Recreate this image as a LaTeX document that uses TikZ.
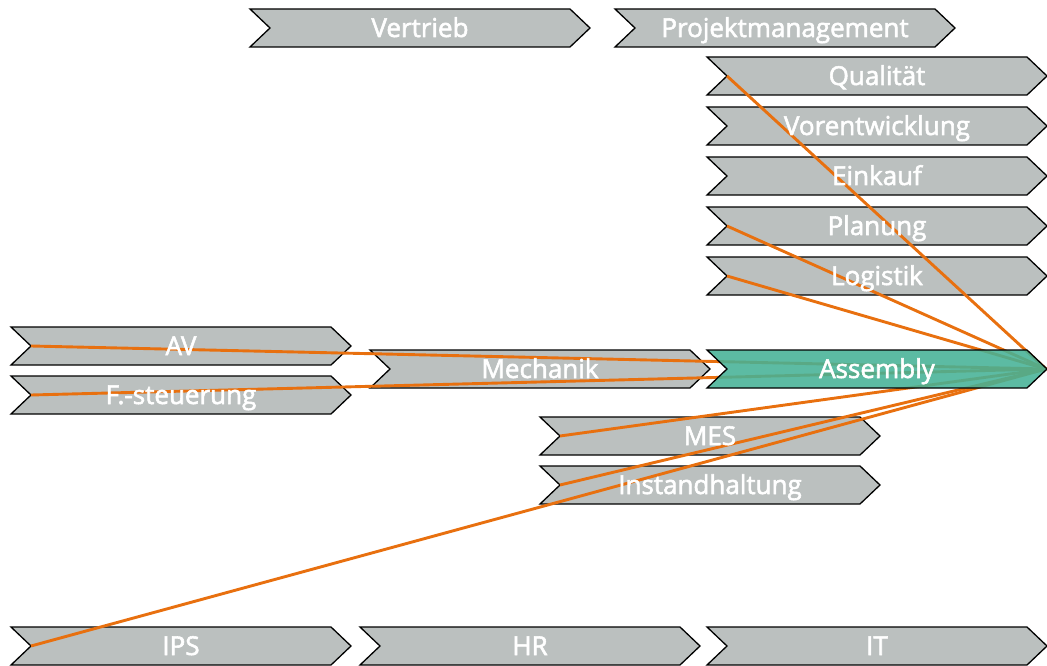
\documentclass[tikz,border=0pt]{standalone}
\usepackage{fontspec}
\setmainfont{Open Sans}[FakeBold=2.2]
\definecolor{chevgray}{HTML}{BBC0BF}
\definecolor{chevgreen}{HTML}{46B296}
\definecolor{linkorange}{HTML}{E8700F}
\pgfdeclarelayer{conn}
\pgfdeclarelayer{hl}
\pgfdeclarelayer{txt}
\pgfsetlayers{main,conn,hl,txt}
\tikzset{
  chevshape/.style={fill=chevgray, draw=black, line width=1.3pt, line join=miter},
  chevhl/.style={fill=chevgreen, fill opacity=0.88, draw=black, draw opacity=1, line width=1.3pt, line join=miter},
  chevlabel/.style={text=white, font=\fontsize{26}{28}\selectfont, inner sep=0pt, anchor=base},
  link/.style={draw=linkorange, line width=2.9pt},
}
% #1 name, #2 left x, #3 top y, #4 label, #5 shape style
\newcommand{\chevbox}[5]{%
  \path[#5] (#2,-#3) -- ++(320,0) -- ++(20,-19) -- ++(-20,-19) -- ++(-320,0) -- ++(20,19) -- cycle;
  \coordinate (#1-in) at (#2+20,-#3-19);
  \coordinate (#1-tip) at (#2+339,-#3-19);
  \begin{pgfonlayer}{txt}
    \node[chevlabel] (#1) at (#2+170,-#3-28) {#4};
  \end{pgfonlayer}%
}
\begin{document}
\begin{tikzpicture}[x=1pt, y=1pt]
  \useasboundingbox (0,0) rectangle (1047,-666);
  % top row
  \chevbox{vertrieb}{250}{9}{Vertrieb}{chevshape}
  \chevbox{pm}{615}{9}{Projektmanagement}{chevshape}
  % right column
  \chevbox{qual}{707}{57}{Qualität}{chevshape}
  \chevbox{vorent}{707}{107}{Vorentwicklung}{chevshape}
  \chevbox{einkauf}{707}{157}{Einkauf}{chevshape}
  \chevbox{planung}{707}{207}{Planung}{chevshape}
  \chevbox{logistik}{707}{257}{Logistik}{chevshape}
  % left side
  \chevbox{av}{11}{327}{AV}{chevshape}
  \chevbox{fst}{11}{376}{F.-steuerung}{chevshape}
  \chevbox{mech}{370}{350}{Mechanik}{chevshape}
  % middle
  \chevbox{mes}{540}{417}{MES}{chevshape}
  \chevbox{ih}{540}{466}{Instandhaltung}{chevshape}
  % bottom row
  \chevbox{ips}{11}{627}{IPS}{chevshape}
  \chevbox{hr}{360}{627}{HR}{chevshape}
  \chevbox{it}{707}{627}{IT}{chevshape}
  % highlighted step
  \begin{pgfonlayer}{hl}
    \chevbox{asm}{707}{350}{Assembly}{chevhl}
  \end{pgfonlayer}
  % links into the highlighted step
  \begin{pgfonlayer}{conn}
    \foreach \src in {qual,planung,logistik,av,fst,mes,ih,ips}
      \draw[link] (\src-in) -- (asm-tip);
  \end{pgfonlayer}
\end{tikzpicture}
\end{document}
